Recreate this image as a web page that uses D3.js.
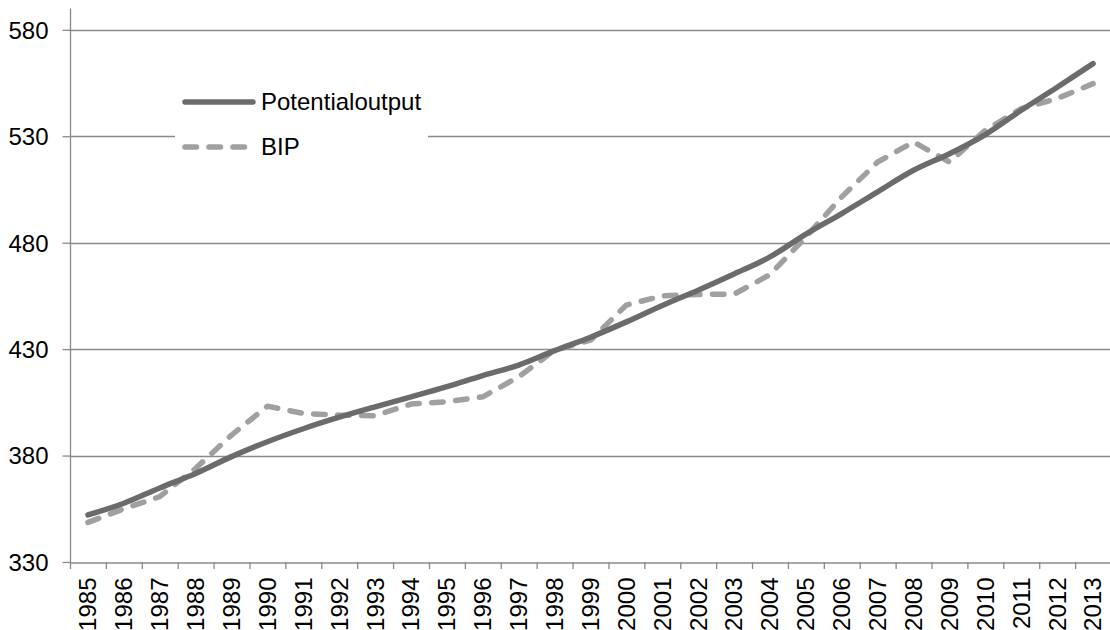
<!DOCTYPE html>
<html><head><meta charset="utf-8">
<script src="https://cdn.jsdelivr.net/npm/d3@7"></script>
<style>body{margin:0;background:#fff}svg{display:block}text{font-family:"Liberation Sans",Arial,sans-serif}</style>
</head><body>
<svg id="c" width="1110" height="630"></svg>
<script>
const years = ["1985","1986","1987","1988","1989","1990","1991","1992","1993","1994","1995","1996","1997","1998","1999","2000","2001","2002","2003","2004","2005","2006","2007","2008","2009","2010","2011","2012","2013"];
const potentialOutput = [352.1,357.6,364.8,371.6,379.5,386.5,392.6,398.0,402.9,407.6,412.4,417.6,422.5,429.3,435.6,442.8,450.5,457.7,465.3,473.3,484.0,493.7,503.9,514.0,521.8,530.8,542.2,553.0,564.1];
const bip = [348.6,355.0,360.7,374.0,389.6,403.2,399.8,399.0,398.7,404.2,405.3,407.6,417.0,429.5,434.2,450.7,455.0,455.7,455.8,465.0,482.7,501.5,517.9,527.3,517.9,532.8,543.0,547.7,554.7];
const yTicks = [330,380,430,480,530,580];
const seriesNames = ["Potentialoutput","BIP"];

const svg = d3.select("#c");
const x = d3.scaleBand().domain(years).range([70,1111]);
const y = d3.scaleLinear().domain([330,590]).range([562,8.5]);

svg.append("g").selectAll("line").data(yTicks.slice(1)).join("line")
  .attr("x1",70).attr("x2",1110).attr("y1",d=>Math.round(y(d))+0.5).attr("y2",d=>Math.round(y(d))+0.5)
  .attr("stroke","#8a8a8a").attr("stroke-width",1.3);

const yAxis = svg.append("g").attr("transform","translate(70.5,0)")
  .call(d3.axisLeft(y).tickValues(yTicks).tickSize(8).tickPadding(14).tickSizeOuter(0));
yAxis.select(".domain").attr("stroke","#8a8a8a").attr("stroke-width",1.3).attr("d","M0,8.5V562");
yAxis.selectAll(".tick line").attr("stroke","#8a8a8a").attr("stroke-width",1.3);
yAxis.selectAll(".tick text").attr("font-size",24).attr("fill","#000").attr("dy","0.35em");

const xAxis = svg.append("g").attr("transform","translate(0,562.5)")
  .call(d3.axisBottom(x).tickSize(0).tickSizeOuter(0));
xAxis.select(".domain").attr("stroke","#8a8a8a").attr("stroke-width",1.3);
xAxis.selectAll(".tick line").remove();
xAxis.selectAll(".tick text").attr("font-size",24).attr("fill","#000")
  .attr("transform","rotate(-90)").attr("text-anchor","end").attr("x",-15).attr("y",0).attr("dy","0.35em");
svg.append("g").selectAll("line").data(years.concat(["end"])).join("line")
  .attr("x1",(d,i)=>70.5+i*x.bandwidth()).attr("x2",(d,i)=>70.5+i*x.bandwidth())
  .attr("y1",562).attr("y2",569).attr("stroke","#8a8a8a").attr("stroke-width",1.3);

const cx = d=>x(d)+x.bandwidth()/2;

const lineSmooth = d3.line().x((d,i)=>cx(years[i])).y(d=>y(d)).curve(d3.curveCatmullRom.alpha(0.5));
const lineStraight = d3.line().x((d,i)=>cx(years[i])).y(d=>y(d));

svg.append("path").datum(bip).attr("d",lineStraight).attr("fill","none")
  .attr("stroke","#a0a0a0").attr("stroke-width",5.5).attr("stroke-dasharray","11.5,12.5").attr("stroke-linecap","round").attr("stroke-linejoin","round");
svg.append("path").datum(potentialOutput).attr("d",lineSmooth).attr("fill","none")
  .attr("stroke","#6b6b6b").attr("stroke-width",5.5).attr("stroke-linecap","round").attr("stroke-linejoin","round");

const lg = svg.append("g");
lg.append("rect").attr("x",175).attr("y",78).attr("width",253).attr("height",95).attr("fill","#fff");
lg.append("line").attr("x1",185).attr("x2",253).attr("y1",102).attr("y2",102)
  .attr("stroke","#6b6b6b").attr("stroke-width",5.5).attr("stroke-linecap","round");
lg.append("line").attr("x1",185).attr("x2",253).attr("y1",147).attr("y2",147)
  .attr("stroke","#a0a0a0").attr("stroke-width",5.5).attr("stroke-dasharray","11.5,12.5").attr("stroke-linecap","round");
lg.selectAll("text.lt").data(seriesNames).join("text").attr("class","lt")
  .attr("x",261).attr("y",(d,i)=>102+i*45).attr("dy","0.35em").attr("font-size",24).attr("fill","#000").text(d=>d);
</script>
</body></html>
